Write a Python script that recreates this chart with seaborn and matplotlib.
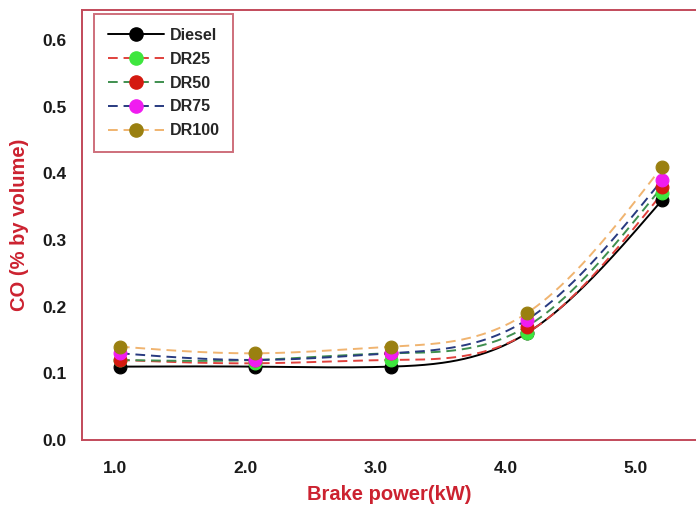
import numpy as np
import pandas as pd
import matplotlib
matplotlib.use("Agg")
import matplotlib.pyplot as plt
from matplotlib.lines import Line2D
import seaborn as sns

# ---- data ----
brake_power = [1.04, 2.08, 3.12, 4.16, 5.2]
series_names = ["Diesel", "DR25", "DR50", "DR75", "DR100"]
diesel = [0.11, 0.11, 0.11, 0.16, 0.36]
dr25 = [0.12, 0.115, 0.12, 0.16, 0.37]
dr50 = [0.12, 0.12, 0.13, 0.17, 0.38]
dr75 = [0.13, 0.12, 0.13, 0.18, 0.39]
dr100 = [0.14, 0.13, 0.14, 0.19, 0.41]
x_ticks = [1.0, 2.0, 3.0, 4.0, 5.0]
y_ticks = [0.0, 0.1, 0.2, 0.3, 0.4, 0.5, 0.6]

values = {"Diesel": diesel, "DR25": dr25, "DR50": dr50, "DR75": dr75, "DR100": dr100}
line_colors = {"Diesel": "#000000", "DR25": "#e0413c", "DR50": "#3f8f4f",
               "DR75": "#283a80", "DR100": "#f0b470"}
marker_colors = {"Diesel": "#000000", "DR25": "#3ee63e", "DR50": "#d41a10",
                 "DR75": "#f01cf0", "DR100": "#9a8010"}
line_styles = {"Diesel": "-", "DR25": (0, (5, 3)), "DR50": (0, (5, 3)),
               "DR75": (0, (5, 3)), "DR100": (0, (5, 3))}


def natural_spline(x, y, n=300):
    x = np.asarray(x, float)
    y = np.asarray(y, float)
    m = len(x)
    h = np.diff(x)
    A = np.zeros((m, m))
    b = np.zeros(m)
    A[0, 0] = 1
    A[-1, -1] = 1
    for i in range(1, m - 1):
        A[i, i - 1] = h[i - 1]
        A[i, i] = 2 * (h[i - 1] + h[i])
        A[i, i + 1] = h[i]
        b[i] = 3 * ((y[i + 1] - y[i]) / h[i] - (y[i] - y[i - 1]) / h[i - 1])
    c = np.linalg.solve(A, b)
    xs = np.linspace(x[0], x[-1], n)
    ys = np.empty_like(xs)
    for k, xv in enumerate(xs):
        i = min(np.searchsorted(x, xv, side="right") - 1, m - 2)
        bi = (y[i + 1] - y[i]) / h[i] - h[i] * (2 * c[i] + c[i + 1]) / 3
        di = (c[i + 1] - c[i]) / (3 * h[i])
        dx = xv - x[i]
        ys[k] = y[i] + bi * dx + c[i] * dx ** 2 + di * dx ** 3
    return xs, ys


sns.set_style("white")
plt.rcParams["font.family"] = ["Liberation Sans", "DejaVu Sans"]

fig = plt.figure(figsize=(6.96, 5.08), dpi=100)
ax = fig.add_axes([0.118, 0.134, 0.882, 0.846])

spine_col = "#c24a5a"
for name in series_names:
    xs, ys = natural_spline(brake_power, values[name])
    dfc = pd.DataFrame({"x": xs, "y": ys})
    sns.lineplot(data=dfc, x="x", y="y", ax=ax, color=line_colors[name],
                 linestyle=line_styles[name], linewidth=1.4, zorder=2,
                 estimator=None, sort=False)

for name in series_names:
    dfp = pd.DataFrame({"x": brake_power, "y": values[name]})
    sns.scatterplot(data=dfp, x="x", y="y", ax=ax, color=marker_colors[name],
                    s=85, edgecolor=marker_colors[name], linewidth=0.8, zorder=3)

ax.set_xlim(0.75, 5.46)
ax.set_ylim(0.0, 0.645)
ax.set_xticks(x_ticks)
ax.set_xticklabels([f"{t:.1f}" for t in x_ticks])
ax.set_yticks(y_ticks)
ax.set_yticklabels([f"{t:.1f}" for t in y_ticks])
ax.tick_params(axis="both", direction="out", length=5, width=1, color="#666666",
               labelsize=12.5)
ax.tick_params(axis="y", pad=6)
ax.tick_params(axis="x", pad=10)
for lab in ax.get_xticklabels() + ax.get_yticklabels():
    lab.set_fontweight("bold")
    lab.set_color("#1a1a1a")

for s in ["left", "top", "bottom"]:
    ax.spines[s].set_color(spine_col)
    ax.spines[s].set_linewidth(1.4)
ax.spines["right"].set_visible(False)

ax.set_xlabel("Brake power(kW)", fontsize=14.5, fontweight="bold", color="#cc2230", labelpad=7)
ax.set_ylabel("CO (% by volume)", fontsize=14.5, fontweight="bold", color="#cc2230", labelpad=10)

handles = []
for name in series_names:
    handles.append(Line2D([0], [0], color=line_colors[name], linestyle=line_styles[name],
                          linewidth=1.4, marker="o", markersize=9.5,
                          markerfacecolor=marker_colors[name],
                          markeredgecolor=marker_colors[name]))
leg = ax.legend(handles, series_names, loc="upper left", bbox_to_anchor=(0.02, 0.99),
                borderaxespad=0, frameon=True, fancybox=False, handlelength=3.5,
                labelspacing=0.55, prop={"weight": "bold", "size": 11.5},
                borderpad=0.85, handletextpad=0.35)
leg.get_frame().set_edgecolor(spine_col)
leg.get_frame().set_linewidth(1.4)

fig.savefig("out.png", dpi=100)
